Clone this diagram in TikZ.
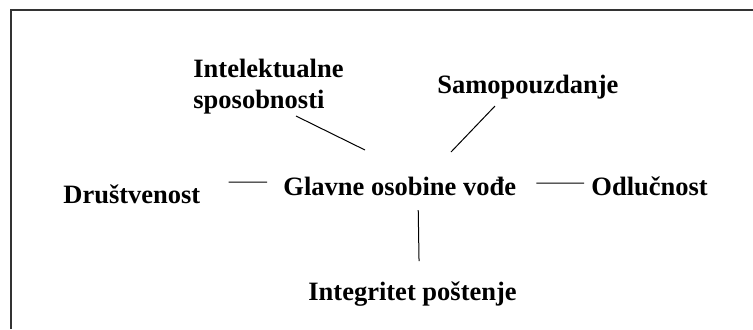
\documentclass[tikz,border=0pt]{standalone}
\usepackage{fontspec}
\setmainfont{Liberation Serif}
\usetikzlibrary{calc}
\tikzstyle{lbl} = [inner sep=0pt, anchor=base west,
    font=\fontsize{13.25}{15.5}\selectfont\bfseries]
\tikzstyle{ln} = [draw, line width=0.5pt]

\begin{document}
\begin{tikzpicture}[x=0.5pt,y=-0.5pt]
  \useasboundingbox (0,0) rectangle (753,329);
  \draw[line width=1pt,black!80] (11,329) |- (753,10);

  \node[lbl]            (glavne) at (283,195) {Glavne osobine vođe};
  \node[lbl]            (drus)   at (63,203)  {Društvenost};
  \node[lbl]            (odluc)  at (591,195) {Odlučnost};
  \node[lbl]            (integ)  at (308,300) {Integritet poštenje};
  \node[lbl,align=left] (intel)  at (193,108) {Intelektualne\\sposobnosti};
  \node[lbl]            (samo)   at (437,93)  {Samopouzdanje};

  \path[ln] ($(drus.base east)+(28,-21)$) -- ($(glavne.base west)+(-16,-13)$)
            ($(glavne.base east)+(20,-12)$) -- ($(odluc.base west)+(-7,-12)$)
            ($(glavne.base)+(18.5,15)$) -- ($(integ.base)+(6.5,-39)$)
            ($(intel.base west)+(103,8)$) -- ($(glavne.base west)+(82,-45)$)
            ($(samo.base west)+(58,13)$) -- ($(glavne.base west)+(168,-43)$);
\end{tikzpicture}
\end{document}
